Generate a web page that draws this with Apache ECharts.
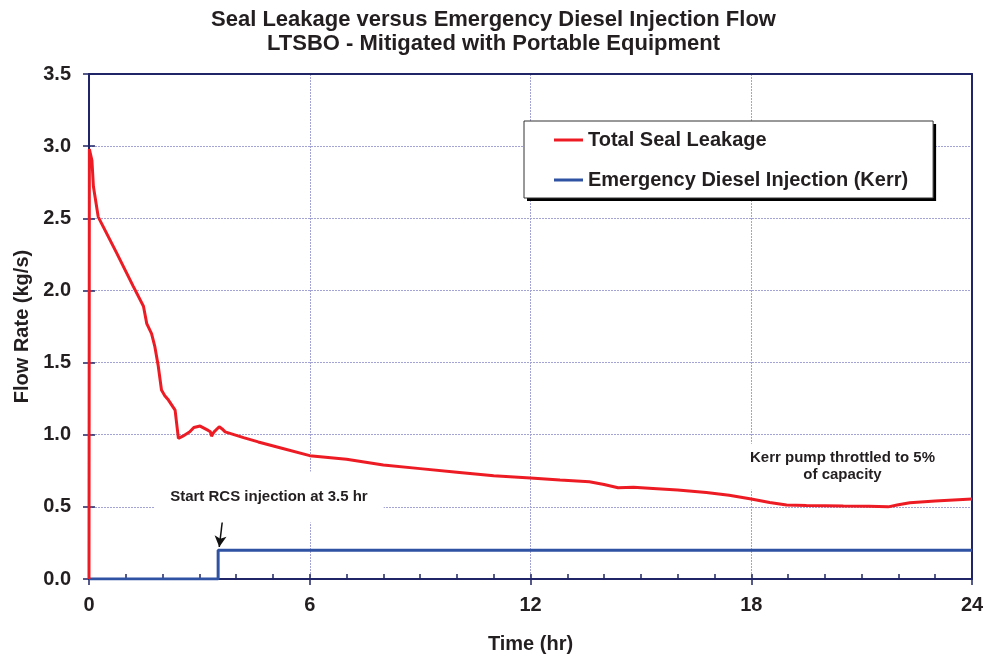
<!DOCTYPE html>
<html>
<head>
<meta charset="utf-8">
<script src="https://cdn.jsdelivr.net/npm/echarts@6/dist/echarts.min.js"></script>
<style>html,body{margin:0;padding:0;background:#fff}#c{width:987px;height:660px}</style>
</head>
<body>
<div id="c"></div>
<script>
// ---- data ----
const titleLines = ['Seal Leakage versus Emergency Diesel Injection Flow', 'LTSBO - Mitigated with Portable Equipment'];
const seriesNames = ['Total Seal Leakage', 'Emergency Diesel Injection (Kerr)'];
const xTicks = [0, 6, 12, 18, 24];
const yTicks = [0, 0.5, 1.0, 1.5, 2.0, 2.5, 3.0, 3.5];

const hoursSeal = [0, 0.01, 0.05, 0.08, 0.12, 0.25, 0.75, 1.2, 1.48, 1.57, 1.7, 1.79, 1.88, 1.97, 2.06, 2.16, 2.34, 2.43, 2.55, 2.74, 2.85, 3.02, 3.24, 3.3, 3.33, 3.4, 3.54, 3.62, 3.7, 4.2, 4.6, 5.19, 6, 7, 8, 9, 10, 11, 12, 12.8, 13.6, 14.0, 14.38, 14.8, 15.33, 16, 16.78, 17.4, 18.0, 18.5, 18.96, 19.5, 20.5, 21.2, 21.72, 22.0, 22.31, 23.0, 24];
const sealFlow  = [0, 2.98, 2.99, 2.9, 2.72, 2.51, 2.26, 2.03, 1.89, 1.77, 1.7, 1.61, 1.48, 1.31, 1.27, 1.24, 1.17, 0.975, 0.99, 1.02, 1.05, 1.06, 1.03, 1.02, 0.99, 1.02, 1.055, 1.04, 1.02, 0.98, 0.95, 0.91, 0.855, 0.83, 0.79, 0.765, 0.74, 0.715, 0.70, 0.686, 0.674, 0.655, 0.633, 0.636, 0.628, 0.617, 0.60, 0.58, 0.554, 0.53, 0.513, 0.51, 0.506, 0.505, 0.50, 0.515, 0.529, 0.54, 0.554];

const hoursKerr = [0, 3.51, 3.51, 24];
const kerrFlow  = [0, 0, 0.2, 0.2];

const notes = ['Start RCS injection at 3.5 hr', 'Kerr pump throttled to 5%\nof capacity'];

// ---- chart ----
const FONT = '"Liberation Sans", Arial, sans-serif';
const TXT = '#231f20';
const NAVY = '#1f2566';
const GRIDC = '#a3a3d6';
const RED = '#ed1c24';
const BLUE = '#2f52a3';

const zip = (xs, ys) => xs.map((x, i) => [x, ys[i]]);
const frameAxis = (pos) => ({
  type: 'value', position: pos, min: 0, max: pos === 'top' ? 24 : 3.5,
  axisLine: {show: true, onZero: false, lineStyle: {color: NAVY, width: 2}},
  axisTick: {show: false}, axisLabel: {show: false}, splitLine: {show: false}
});
const legendBase = (extra) => Object.assign({
  orient: 'vertical',
  left: 524, top: 121,
  padding: [9, 25, 8, 30],
  itemGap: 20,
  itemWidth: 29, itemHeight: 3,
  icon: 'rect',
  backgroundColor: '#fff',
  textStyle: {fontFamily: FONT, fontSize: 20, fontWeight: 'bold', color: TXT, lineHeight: 20},
  data: seriesNames
}, extra);

const chart = echarts.init(document.getElementById('c'), null, {renderer: 'canvas'});
chart.setOption({
  animation: false,
  backgroundColor: '#fff',
  textStyle: {fontFamily: FONT},
  title: {
    text: titleLines.join('\n'),
    left: 'center', top: 3,
    textStyle: {fontFamily: FONT, fontSize: 22, fontWeight: 'bold', color: TXT, lineHeight: 24}
  },
  legend: [
    legendBase({z: 5, borderWidth: 0,
      shadowColor: 'rgba(0,0,0,1)', shadowBlur: 0, shadowOffsetX: 3, shadowOffsetY: 3}),
    legendBase({z: 6, borderColor: '#333', borderWidth: 1})
  ],
  grid: {
    left: 89, right: 15, top: 74, bottom: 81,
    outerBoundsMode: 'none'
  },
  xAxis: [{
    type: 'value', position: 'bottom', min: xTicks[0], max: xTicks[xTicks.length - 1], interval: 6,
    axisLine: {show: true, onZero: false, lineStyle: {color: NAVY, width: 2}},
    axisTick: {show: true, inside: false, length: 6, lineStyle: {color: NAVY, width: 1.5}},
    axisLabel: {margin: 16, fontFamily: FONT, fontSize: 20, fontWeight: 'bold', color: TXT},
    splitLine: {show: true, lineStyle: {color: GRIDC, width: 1, type: [2, 1]}},
    name: 'Time (hr)', nameLocation: 'middle', nameGap: 55,
    nameTextStyle: {fontFamily: FONT, fontSize: 20, fontWeight: 'bold', color: TXT}
  }, {
    type: 'value', position: 'bottom', min: 0, max: 24, interval: 1,
    axisLine: {show: false, onZero: false},
    axisTick: {show: true, inside: true, length: 5, lineStyle: {color: NAVY, width: 1.5}},
    axisLabel: {show: false},
    splitLine: {show: false}
  }, frameAxis('top')],
  yAxis: [{
    type: 'value', position: 'left', min: yTicks[0], max: yTicks[yTicks.length - 1], interval: 0.5,
    axisLine: {show: true, onZero: false, lineStyle: {color: NAVY, width: 2}},
    axisTick: {show: true, inside: false, length: 6, lineStyle: {color: NAVY, width: 1.5}},
    axisLabel: {margin: 18, fontFamily: FONT, fontSize: 20, fontWeight: 'bold', color: TXT,
      formatter: v => v.toFixed(1)},
    splitLine: {show: true, lineStyle: {color: GRIDC, width: 1, type: [2, 1]}},
    name: 'Flow Rate (kg/s)', nameLocation: 'middle', nameGap: 54, nameRotate: 90,
    nameTextStyle: {fontFamily: FONT, fontSize: 20, fontWeight: 'bold', color: TXT}
  }, {
    type: 'value', position: 'left', min: 0, max: 3.5, interval: 0.5,
    axisLine: {show: false, onZero: false},
    axisTick: {show: true, inside: true, length: 6, lineStyle: {color: NAVY, width: 1.5}},
    axisLabel: {show: false},
    splitLine: {show: false}
  }, frameAxis('right')],
  series: [{
    name: seriesNames[1], type: 'line', xAxisIndex: 0, yAxisIndex: 0,
    data: zip(hoursKerr, kerrFlow),
    showSymbol: false, symbol: 'none', z: 3,
    lineStyle: {color: BLUE, width: 3}, itemStyle: {color: BLUE},
    markLine: {
      silent: true, symbol: ['none', 'arrow'], symbolSize: [9, 11],
      label: {show: false},
      lineStyle: {color: '#111', width: 1.5, type: 'solid'},
      data: [[{coord: [3.65, 0.455]}, {coord: [3.54, 0.222]}]]
    },
    markPoint: {
      silent: true, symbol: 'rect', symbolSize: 1,
      itemStyle: {color: 'rgba(0,0,0,0)'},
      label: {show: true, position: 'inside', fontFamily: FONT, fontSize: 15, fontWeight: 'bold',
        color: TXT, backgroundColor: '#fff', align: 'center', verticalAlign: 'middle'},
      data: [
        {coord: [4.89, 0.568], value: 0,
          label: {formatter: notes[0], padding: [17, 16, 18, 16], lineHeight: 16}},
        {coord: [20.48, 0.778], value: 0,
          label: {formatter: notes[1], padding: [6, 8, 6, 8], lineHeight: 17}}
      ]
    }
  }, {
    name: seriesNames[0], type: 'line', xAxisIndex: 0, yAxisIndex: 0,
    data: zip(hoursSeal, sealFlow),
    showSymbol: false, symbol: 'none', z: 4,
    lineStyle: {color: RED, width: 3}, itemStyle: {color: RED}
  }]
});
</script>
</body>
</html>
